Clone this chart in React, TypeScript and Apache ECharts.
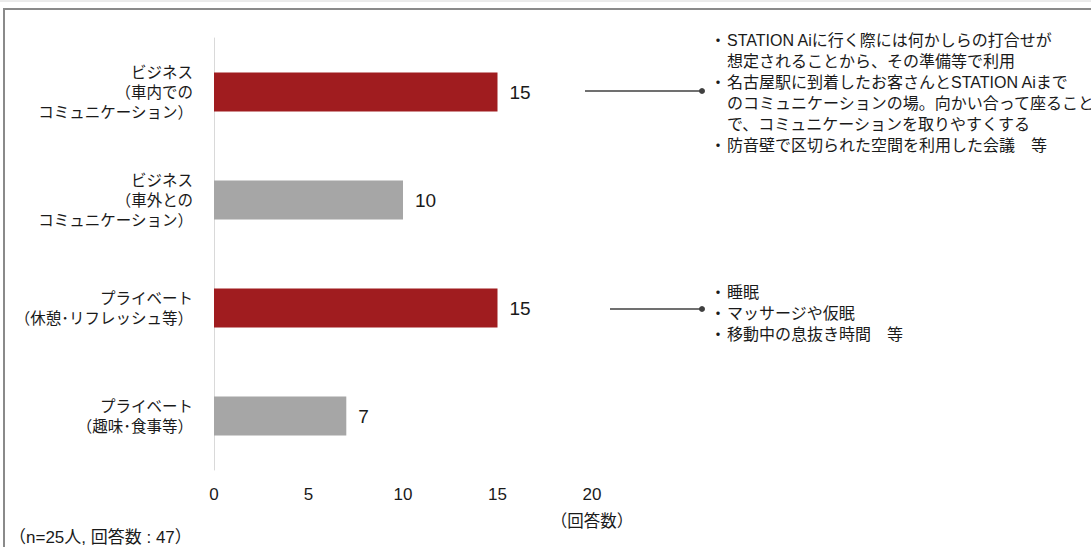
import React, { useEffect, useRef } from "react";
import * as echarts from "echarts";

const categories = [
  "ビジネス\n（車内での\nコミュニケーション）",
  "ビジネス\n（車外との\nコミュニケーション）",
  "プライベート\n（休憩･リフレッシュ等）",
  "プライベート\n（趣味･食事等）",
];
const values = [15, 10, 15, 7];
const highlighted = [true, false, true, false];
const xTicks = [0, 5, 10, 15, 20];

const note1 = [
  ["・", "STATION Aiに行く際には何かしらの打合せが"],
  ["", "想定されることから、その準備等で利用"],
  ["・", "名古屋駅に到着したお客さんとSTATION Aiまで"],
  ["", "のコミュニケーションの場。向かい合って座ること"],
  ["", "で、コミュニケーションを取りやすくする"],
  ["・", "防音壁で区切られた空間を利用した会議　等"],
];
const note2 = [
  ["・", "睡眠"],
  ["・", "マッサージや仮眠"],
  ["・", "移動中の息抜き時間　等"],
];
const axisUnit = "（回答数）";
const footnote = "（n=25人, 回答数 : 47）";

const FONT = "'Liberation Sans', Arial, 'Noto Sans CJK JP', sans-serif";
const RED = "#a01c1f";
const GRAY = "#a6a6a6";
const TEXT = "#1a1a1a";

export default function App() {
  const ref = useRef<HTMLDivElement>(null);
  useEffect(() => {
    if (!ref.current) return;
    const chart = echarts.init(ref.current, null, { renderer: "svg" });

    const noteEls: any[] = [];
    const addNote = (lines: string[][], y0: number, lh: number) => {
      lines.forEach((l, i) => {
        const y = y0 + i * lh;
        if (l[0]) {
          noteEls.push({
            type: "text",
            x: 718,
            y,
            style: { text: l[0], font: `16px ${FONT}`, fill: TEXT, align: "center", verticalAlign: "middle" },
          });
        }
        noteEls.push({
          type: "text",
          x: 727,
          y,
          style: { text: l[1], font: `16px ${FONT}`, fill: TEXT, align: "left", verticalAlign: "middle" },
        });
      });
    };
    addNote(note1, 40, 21);
    addNote(note2, 292, 21);

    chart.setOption({
      animation: false,
      backgroundColor: "#ffffff",
      grid: { left: 214, right: 1091 - 592, top: 38, bottom: 547 - 470 },
      xAxis: {
        type: "value",
        min: 0,
        max: 20,
        interval: 5,
        axisLine: { show: false },
        axisTick: { show: false },
        splitLine: { show: false },
        axisLabel: {
          margin: 16,
          fontSize: 17,
          color: TEXT,
          fontFamily: FONT,
          formatter: (v: number) => (xTicks.includes(v) ? String(v) : ""),
        },
      },
      yAxis: {
        type: "category",
        data: categories,
        inverse: true,
        axisLine: { show: true, lineStyle: { color: "#d9d9d9", width: 1 } },
        axisTick: { show: false },
        axisLabel: {
          margin: 21,
          fontSize: 15.5,
          lineHeight: 20,
          color: TEXT,
          fontFamily: FONT,
          align: "right",
        },
      },
      series: [
        {
          type: "bar",
          barWidth: 39,
          data: values.map((v, i) => ({
            value: v,
            itemStyle: { color: highlighted[i] ? RED : GRAY },
          })),
          label: {
            show: true,
            position: "right",
            distance: 12,
            fontSize: 19,
            color: TEXT,
            fontFamily: FONT,
          },
        },
      ],
      graphic: [
        { type: "line", shape: { x1: 0, y1: 1, x2: 1091, y2: 1 }, style: { stroke: "#d6d6d6", lineWidth: 1 } },
        { type: "line", shape: { x1: 3, y1: 9, x2: 1091, y2: 9 }, style: { stroke: "#8a8a8a", lineWidth: 2 } },
        { type: "line", shape: { x1: 4, y1: 9, x2: 4, y2: 547 }, style: { stroke: "#8a8a8a", lineWidth: 2 } },
        { type: "line", shape: { x1: 585, y1: 91, x2: 702, y2: 91 }, style: { stroke: "#404040", lineWidth: 1.5 } },
        { type: "circle", shape: { cx: 702, cy: 91, r: 3 }, style: { fill: "#404040" } },
        { type: "line", shape: { x1: 610, y1: 309, x2: 702, y2: 309 }, style: { stroke: "#404040", lineWidth: 1.5 } },
        { type: "circle", shape: { cx: 702, cy: 309, r: 3 }, style: { fill: "#404040" } },
        ...noteEls,
        {
          type: "text",
          x: 592,
          y: 521,
          style: { text: axisUnit, font: `16.5px ${FONT}`, fill: TEXT, align: "center", verticalAlign: "middle" },
        },
        {
          type: "text",
          x: 9,
          y: 537,
          style: { text: footnote, font: `17px ${FONT}`, fill: TEXT, align: "left", verticalAlign: "middle" },
        },
      ],
    });
    return () => chart.dispose();
  }, []);
  return (
    <div
      ref={ref}
      style={{ position: "fixed", left: 0, top: 0, width: 1091, height: 547 }}
    />
  );
}
